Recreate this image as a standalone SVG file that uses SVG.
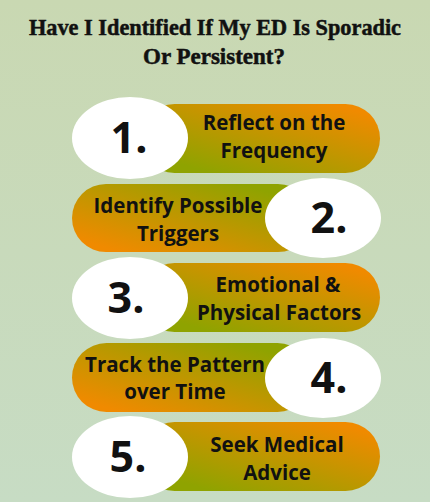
<svg xmlns="http://www.w3.org/2000/svg" width="430" height="502" viewBox="0 0 430 502">
<defs>
<linearGradient id="bg" x1="0" y1="0" x2="0" y2="1">
<stop offset="0" stop-color="#c9d8b2"/>
<stop offset="1" stop-color="#c7dcc4"/>
</linearGradient>
<linearGradient id="gOdd" x1="0" y1="1" x2="1" y2="0">
<stop offset="0.15" stop-color="#8fa300"/>
<stop offset="0.9" stop-color="#f08a00"/>
</linearGradient>
<linearGradient id="gEven" x1="0" y1="1" x2="1" y2="0">
<stop offset="0.1" stop-color="#f08a00"/>
<stop offset="0.85" stop-color="#8fa300"/>
</linearGradient>
<style>
.t{font-family:"Liberation Serif","DejaVu Serif",serif;font-weight:bold;font-size:23px;fill:#111;stroke:#111;stroke-width:0.5;text-anchor:middle}
.lbl{font-family:"Open Sans","Liberation Sans",sans-serif;font-weight:bold;font-size:20.5px;fill:#111;text-anchor:middle}
.num{font-family:"Open Sans","Liberation Sans",sans-serif;font-weight:bold;font-size:43px;fill:#111;text-anchor:middle}
.ell{fill:#fff}
</style>
</defs>
<rect width="430" height="502" fill="url(#bg)"/>
<g id="title">
<text class="t" x="215" y="35" textLength="372" lengthAdjust="spacingAndGlyphs">Have I Identified If My ED Is Sporadic</text>
<text class="t" x="214" y="64" textLength="142" lengthAdjust="spacingAndGlyphs">Or Persistent?</text>
</g>
<g id="connectors"></g>
<g id="step1">
<rect x="140" y="104" width="240" height="69" rx="34.5" fill="url(#gOdd)"/>
<ellipse class="ell" cx="130" cy="138" rx="58" ry="41"/>
<text class="num" x="129" y="153">1.</text>
<text class="lbl" x="274" y="130">Reflect on the</text>
<text class="lbl" x="274" y="158">Frequency</text>
</g>
<g id="step2">
<rect x="72" y="184" width="240" height="68" rx="34" fill="url(#gEven)"/>
<ellipse class="ell" cx="323" cy="218" rx="58" ry="40"/>
<text class="num" x="329" y="233">2.</text>
<text class="lbl" x="178" y="213">Identify Possible</text>
<text class="lbl" x="178" y="241">Triggers</text>
</g>
<g id="step3">
<rect x="140" y="263" width="240" height="69" rx="34.5" fill="url(#gOdd)"/>
<ellipse class="ell" cx="130" cy="298" rx="58" ry="41"/>
<text class="num" x="126" y="313">3.</text>
<text class="lbl" x="278" y="292">Emotional &amp;</text>
<text class="lbl" x="279" y="320">Physical Factors</text>
</g>
<g id="step4">
<rect x="72" y="343" width="240" height="69" rx="34.5" fill="url(#gEven)"/>
<ellipse class="ell" cx="323" cy="378" rx="58" ry="40"/>
<text class="num" x="329" y="393">4.</text>
<text class="lbl" x="175" y="372">Track the Pattern</text>
<text class="lbl" x="175" y="399">over Time</text>
</g>
<g id="step5">
<rect x="140" y="422" width="240" height="69" rx="34.5" fill="url(#gOdd)"/>
<ellipse class="ell" cx="130" cy="457" rx="58" ry="41"/>
<text class="num" x="128" y="472">5.</text>
<text class="lbl" x="277" y="452">Seek Medical</text>
<text class="lbl" x="277" y="480">Advice</text>
</g>
</svg>
